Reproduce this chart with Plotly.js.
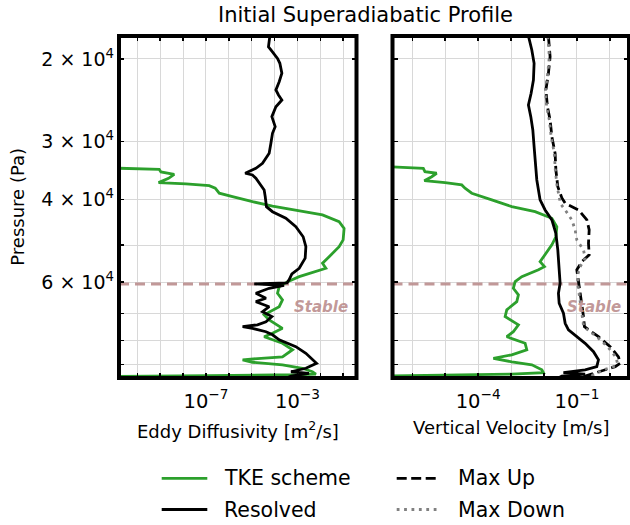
<!DOCTYPE html>
<html><head><meta charset="utf-8">
<script src="https://cdn.plot.ly/plotly-3.0.1.min.js"></script>
<style>html,body{margin:0;padding:0;background:#fff}</style>
</head><body><div id="chart" style="width:630px;height:525px"></div>
<script>
// ---------- data ----------
// Left panel: eddy diffusivity [m2/s] vs pressure [Pa]
const kTkeP = [34120,34460,34890,35290,35990,36770,37010,37320,37800,38740,39390,40390,41260,42060,43110,44570,46050,48750,50420,52950,54700,56060,57010,58430,59880,61380,63410,65490,67740,70500,72260,75360,77240,78540,81120,83750,86700,87980,89060,90170,91740,93320,94390,94720,95180,95560];
const kTke  = [1e-12,9.1e-10,1.08e-9,4.1e-9,2.33e-9,8.5e-10,1.34e-8,1.39e-7,2.55e-7,3.8e-7,1.45e-6,1.08e-5,8.1e-5,8.5e-4,1.24e-2,6.6e-2,0.109,0.099,6.6e-2,2.42e-2,1.24e-2,1.74e-2,6.4e-3,1.19e-3,3.7e-4,1.59e-4,1.34e-4,2.21e-4,1.59e-4,3.5e-5,5.8e-5,2.21e-4,8.1e-5,3.5e-5,2.21e-4,6.1e-4,2.21e-4,4.0e-6,1.08e-5,2.21e-4,1.65e-3,4.5e-3,6.4e-3,8.5e-4,1.39e-7,1e-12];

const kResP = [17860,18830,19130,19940,20430,21460,22370,23300,23880,24480,25300,26570,27910,28840,30290,31820,33430,34260,35110,35410,35990,37190,38120,39390,41390,42430,43830,45690,48000,50420,53350,56060,57660,59350,60250,60550,61000,61870,63410,64990,66090,67740,69420,71110,72950,74060,74770,75360,76630,77790,79730,82480,85210,89500,91740,93320,94060,95320,95900];
const kRes  = [6.2e-5,5.4e-5,6.9e-5,1.34e-4,1.70e-4,2.08e-4,1.59e-4,1.14e-4,1.48e-4,2.08e-4,1.14e-4,7.6e-5,1.06e-4,8.1e-5,6.9e-5,5.8e-5,2.97e-5,1.52e-5,5.2e-6,1.08e-5,1.52e-5,2.52e-5,3.5e-5,3.9e-5,4.4e-5,8.1e-5,3.1e-4,8.5e-4,1.77e-3,2.33e-3,2.17e-3,1.19e-3,5.7e-4,4.3e-4,3.5e-4,1.29e-5,2.6e-4,5.8e-5,1.52e-5,4.2e-5,1.52e-5,5.8e-5,2.97e-5,7.6e-5,4.2e-5,1.79e-5,4.0e-6,1.08e-5,4.2e-5,8.1e-5,1.59e-4,8.5e-4,2.33e-3,6.8e-3,2.33e-3,5.2e-4,3.2e-3,5.2e-4,4.0e-4];

// Right panel: vertical velocity [m/s] vs pressure [Pa]
const wTkeP = [33950,34260,34840,35110,35710,36420,36770,37190,37800,38740,40040,41390,42430,43830,45690,48000,49960,52480,54270,55620,56500,58430,59880,61870,63890,66090,68790,71110,74060,76630,78540,81120,83750,85840,87390,88860,90170,92420,93770,94390,95000,95320];
const wTke  = [1e-7,2.16e-6,2.43e-6,5.5e-6,3.9e-6,2.32e-6,9.9e-6,3.18e-5,4.0e-5,6.4e-5,2.59e-4,1.05e-3,5.36e-3,1.73e-2,2.45e-2,2.29e-2,1.73e-2,1.03e-2,7.6e-3,1.03e-2,6.8e-3,2.11e-3,1.33e-3,1.17e-3,1.67e-3,1.49e-3,7.4e-4,6.6e-4,1.67e-3,1.17e-3,7.4e-4,2.67e-3,3.0e-3,1.05e-3,2.9e-4,1.05e-3,4.26e-3,8.6e-3,9.6e-3,1.05e-3,3.06e-6,1e-7];

const wResP = [17860,19130,20430,22180,23680,25090,26570,28370,30810,33430,36290,40040,42060,44180,47200,51210,55620,60360,63410,66610,69970,73530,75900,78540,81120,84540,87980,91020,92420,93770,94390,95320,95900];
const wRes  = [3.36e-3,4.26e-3,5.0e-3,4.77e-3,4.06e-3,3.36e-3,3.97e-3,4.57e-3,5.0e-3,5.36e-3,6.04e-3,7.6e-3,1.08e-2,1.73e-2,2.29e-2,2.62e-2,2.88e-2,3.08e-2,2.74e-2,2.88e-2,3.89e-2,4.38e-2,5.52e-2,9.9e-2,0.177,0.318,0.45,0.40,0.177,3.89e-2,0.177,3.48e-2,3.0e-2];

const wUpP = [17900,19770,21460,23300,25300,27010,29330,31820,34540,37520,39660,40700,42060,44180,46410,49580,52480,54270,56500,60360,65490,71110,74770,78540,82480,86700,89500,91020,92420,94060,95320,95900];
const wUp  = [1.36e-2,1.53e-2,1.36e-2,1.14e-2,1.27e-2,1.53e-2,1.73e-2,2.17e-2,2.29e-2,2.62e-2,3.48e-2,4.38e-2,0.111,0.20,0.235,0.224,0.235,0.141,9.9e-2,0.111,0.134,0.158,0.169,0.45,1.02,1.82,2.06,1.45,0.72,0.357,0.177,0.12];

const wDownP = [17900,19770,21460,23300,25300,27010,29330,31820,34540,37520,39390,40700,42060,44180,46410,48750,51210,53350,55620,57910,60360,65490,71110,74770,78540,82480,86700,89500,91020,92420,94060,95320];
const wDown  = [1.3e-2,1.45e-2,1.3e-2,1.1e-2,1.2e-2,1.45e-2,1.65e-2,2.05e-2,2.2e-2,2.5e-2,2.9e-2,3.1e-2,4.38e-2,7.0e-2,8.8e-2,9.9e-2,0.158,0.177,0.125,0.105,0.105,0.125,0.148,0.16,0.40,0.85,1.5,1.7,1.3,0.65,0.40,0.25];

const stableP = 60600;   // top of stable layer
const stableLabel = 'Stable';

// ticks: labelled (major) and unlabelled (minor) positions
const pTickVals = [20000,30000,40000,60000];
const pTickText = ['2 × 10<sup>4</sup>','3 × 10<sup>4</sup>','4 × 10<sup>4</sup>','6 × 10<sup>4</sup>'];
const pMinorVals = [50000,70000,80000,90000];
const kTickVals = [1e-7,1e-3];
const kTickText = ['10<sup>−7</sup>','10<sup>−3</sup>'];
const kMinorVals = [1e-10,1e-9,1e-8,1e-6,1e-5,1e-4,1e-2,1e-1];
const wTickVals = [1e-4,1e-1];
const wTickText = ['10<sup>−4</sup>','10<sup>−1</sup>'];
const wMinorVals = [1e-6,1e-5,1e-3,1e-2,1];

const legendNames = ['TKE scheme','Resolved','Max Up','Max Down'];

// ---------- styles / layout ----------
const FONT = 'DejaVu Sans';
const W = 630, H = 525;
const GREEN = '#2ca02c', BLACK = '#000000', GREY = '#808080', ROSY = 'rgba(188,143,143,0.92)';
const GRID = '#d8d8d8';
const LW = 2.8;
const styles = {
  tke:  {color: GREEN, width: LW},
  res:  {color: BLACK, width: LW},
  up:   {color: BLACK, width: LW, dash: '10px,4.5px'},
  down: {color: GREY,  width: LW, dash: '2.8px,4.6px'},
  stable: {color: ROSY, width: 3, dash: '10px,6px'}
};

const dom1 = [119/W, 356.5/W];
const dom2 = [392.5/W, 629/W];
const domY = [1 - 378/H, 1 - 36/H];
const pRange = [Math.log10(96240), Math.log10(17860)];
const kRange = [-10.8, -0.42];
const wRange = [-6.6, 0.58];
const tickStyle = {ticks: 'inside', ticklen: 5, tickwidth: 1.5, tickcolor: '#000'};

function minorOf(vals) {
  return Object.assign({tickmode: 'array', tickvals: vals, showgrid: true, gridcolor: GRID, gridwidth: 1}, tickStyle);
}
function xax(dom, anchor, range, vals, text, minorVals) {
  return Object.assign({domain: dom, anchor: anchor, type: 'log', range: range,
    tickmode: 'array', tickvals: vals, ticktext: text, minor: minorOf(minorVals),
    mirror: 'ticks', showline: false, zeroline: false,
    showgrid: true, gridcolor: GRID, gridwidth: 1,
    tickfont: {family: FONT, size: 19.5, color: '#000'}, ticklabelstandoff: 9}, tickStyle);
}
function yax(anchor, showLabels) {
  return Object.assign({domain: domY, anchor: anchor, type: 'log', range: pRange,
    tickmode: 'array', tickvals: pTickVals, ticktext: pTickText, minor: minorOf(pMinorVals),
    showticklabels: showLabels,
    mirror: 'ticks', showline: false, zeroline: false,
    showgrid: true, gridcolor: GRID, gridwidth: 1,
    tickfont: {family: FONT, size: 19, color: '#000'}, ticklabelstandoff: 4}, tickStyle);
}

const traces = [
  {x: [Math.pow(10, kRange[0]), Math.pow(10, kRange[1])], y: [stableP, stableP], xaxis: 'x', yaxis: 'y', mode: 'lines', line: styles.stable, hoverinfo: 'skip'},
  {x: kTke, y: kTkeP, xaxis: 'x', yaxis: 'y', mode: 'lines', line: styles.tke, name: legendNames[0]},
  {x: kRes, y: kResP, xaxis: 'x', yaxis: 'y', mode: 'lines', line: styles.res, name: legendNames[1]},
  {x: [Math.pow(10, wRange[0]), Math.pow(10, wRange[1])], y: [stableP, stableP], xaxis: 'x2', yaxis: 'y2', mode: 'lines', line: styles.stable, hoverinfo: 'skip'},
  {x: wTke, y: wTkeP, xaxis: 'x2', yaxis: 'y2', mode: 'lines', line: styles.tke, name: legendNames[0]},
  {x: wRes, y: wResP, xaxis: 'x2', yaxis: 'y2', mode: 'lines', line: styles.res, name: legendNames[1]},
  {x: wUp, y: wUpP, xaxis: 'x2', yaxis: 'y2', mode: 'lines', line: styles.up, name: legendNames[2]},
  {x: wDown, y: wDownP, xaxis: 'x2', yaxis: 'y2', mode: 'lines', line: styles.down, name: legendNames[3]}
];

function px(x) { return x / W; }
function py(y) { return 1 - y / H; }

// frames (spines centred on axes boundary)
const shapes = [];
[dom1, dom2].forEach(d => shapes.push({type: 'rect', xref: 'paper', yref: 'paper',
  x0: d[0], x1: d[1], y0: domY[0], y1: domY[1], line: {color: '#000', width: 4}, layer: 'above'}));

// custom legend (two columns)
const legendItems = [
  {name: legendNames[0], style: styles.tke,  col: 0, row: 0},
  {name: legendNames[1], style: styles.res,  col: 0, row: 1},
  {name: legendNames[2], style: styles.up,   col: 1, row: 0},
  {name: legendNames[3], style: styles.down, col: 1, row: 1}
];
const legCols = [{x0: 161.7, x1: 207.3, tx: 222}, {x0: 396.7, x1: 440, tx: 456}];
const legRows = [478.3, 509.5];
const annotations = [];
legendItems.forEach(it => {
  const c = legCols[it.col], yy = legRows[it.row];
  shapes.push({type: 'line', xref: 'paper', yref: 'paper', x0: px(c.x0), x1: px(c.x1), y0: py(yy), y1: py(yy), line: it.style});
  annotations.push({xref: 'paper', yref: 'paper', x: px(c.tx), y: py(yy), xanchor: 'left', yanchor: 'middle',
    text: it.name, showarrow: false, font: {family: FONT, size: 20.5, color: '#000'}});
});

// title + axis titles
annotations.push({xref: 'paper', yref: 'paper', x: px(365.5), y: py(14.5), xanchor: 'center', yanchor: 'middle',
  text: 'Initial Superadiabatic Profile', showarrow: false, font: {family: FONT, size: 21, color: '#000'}});
annotations.push({xref: 'paper', yref: 'paper', x: (dom1[0] + dom1[1]) / 2, y: py(430), xanchor: 'center', yanchor: 'middle',
  text: 'Eddy Diffusivity [m<sup>2</sup>/s]', showarrow: false, font: {family: FONT, size: 18, color: '#000'}});
annotations.push({xref: 'paper', yref: 'paper', x: (dom2[0] + dom2[1]) / 2, y: py(427.5), xanchor: 'center', yanchor: 'middle',
  text: 'Vertical Velocity [m/s]', showarrow: false, font: {family: FONT, size: 18, color: '#000'}});
annotations.push({xref: 'paper', yref: 'paper', x: px(16.7), y: py(207), xanchor: 'center', yanchor: 'middle', textangle: -90,
  text: 'Pressure (Pa)', showarrow: false, font: {family: FONT, size: 18, color: '#000'}});
// "Stable" labels
[356.5 - 6.5, 629 - 6].forEach(xr => annotations.push({xref: 'paper', yref: 'paper', x: px(xr), y: py(306.7),
  xanchor: 'right', yanchor: 'middle', text: stableLabel, showarrow: false,
  font: {family: FONT, size: 15, color: ROSY, weight: 'bold', style: 'italic'}}));

const layout = {
  width: W, height: H, margin: {l: 0, r: 0, t: 0, b: 0},
  paper_bgcolor: '#fff', plot_bgcolor: '#fff', showlegend: false,
  font: {family: FONT, color: '#000'},
  xaxis: xax(dom1, 'y', kRange, kTickVals, kTickText, kMinorVals),
  yaxis: yax('x', true),
  xaxis2: xax(dom2, 'y2', wRange, wTickVals, wTickText, wMinorVals),
  yaxis2: yax('x2', false),
  shapes: shapes, annotations: annotations
};

Plotly.newPlot('chart', traces, layout, {staticPlot: true, displayModeBar: false});
</script></body></html>
